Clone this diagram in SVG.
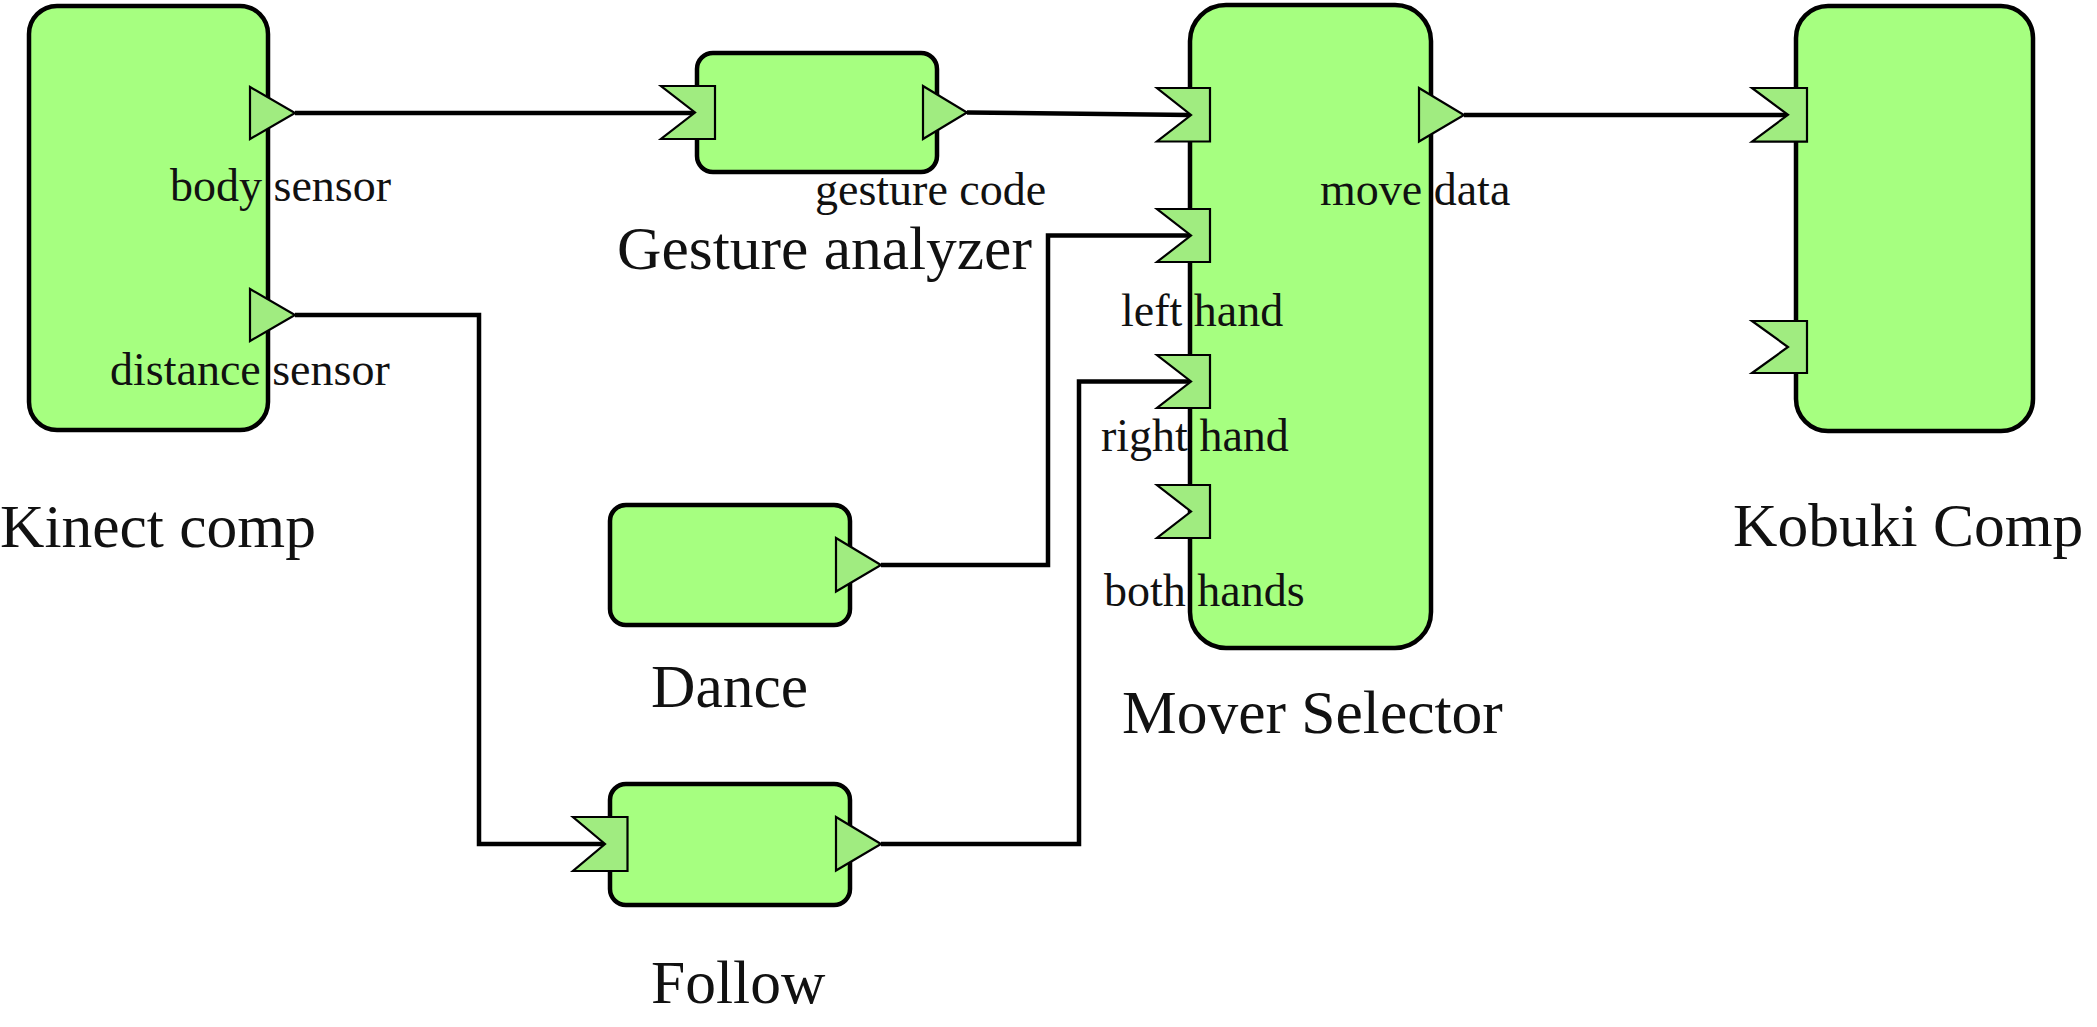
<svg xmlns="http://www.w3.org/2000/svg" width="2097" height="1027" viewBox="0 0 2097 1027">
<style>
.box{fill:#a6ff80;stroke:#000;stroke-width:4.5}
.port{fill:#a0ec80;stroke:#000;stroke-width:2.2;stroke-linejoin:miter}
.conn{fill:none;stroke:#000;stroke-width:4.5}
.lbl{font-family:"Liberation Serif","Times New Roman",serif;font-size:46px;fill:#111}
.ttl{font-family:"Liberation Serif","Times New Roman",serif;font-size:61.5px;fill:#111}
</style>
<rect width="2097" height="1027" fill="#fff"/>
<g id="connectors">
<polyline class="conn" points="295,113 695,113"/>
<polyline class="conn" points="967,112.5 1191,115"/>
<polyline class="conn" points="1464,115 1788,115"/>
<polyline class="conn" points="295,315 479,315 479,844 605,844"/>
<polyline class="conn" points="881,565 1048,565 1048,235.5 1191,235.5"/>
<polyline class="conn" points="881,844 1079,844 1079,381.5 1191,381.5"/>
</g>
<g id="kinect">
<rect class="box" x="29" y="6" width="239" height="424" rx="28"/>
<polygon class="port" points="250,87 250,139 295,113"/>
<polygon class="port" points="250,289 250,341 295,315"/>
<text class="lbl" x="170" y="201">body sensor</text>
<text class="lbl" x="110" y="385">distance sensor</text>
<text class="ttl" x="0" y="547">Kinect comp</text>
</g>
<g id="gesture">
<rect class="box" x="697" y="53" width="240" height="119" rx="16"/>
<polygon class="port" points="661,86 715,86 715,139 661,139 695,112.5"/>
<polygon class="port" points="923,86 923,139 967,112.5"/>
<text class="lbl" x="815" y="205">gesture code</text>
<text class="ttl" x="617" y="269">Gesture analyzer</text>
</g>
<g id="dance">
<rect class="box" x="610" y="505" width="240" height="120" rx="16"/>
<polygon class="port" points="836,538 836,591.5 881,565"/>
<text class="ttl" x="651" y="707">Dance</text>
</g>
<g id="follow">
<rect class="box" x="610" y="784" width="240" height="121" rx="16"/>
<polygon class="port" points="573,817 627.5,817 627.5,871 573,871 605,844"/>
<polygon class="port" points="836,817 836,870.5 881,844"/>
<text class="ttl" x="651" y="1003">Follow</text>
</g>
<g id="mover">
<rect class="box" x="1190" y="5" width="241" height="643" rx="36"/>
<polygon class="port" points="1157,88 1210,88 1210,141.5 1157,141.5 1191,115"/>
<polygon class="port" points="1157,209 1210,209 1210,262 1157,262 1191,235.5"/>
<polygon class="port" points="1157,355 1210,355 1210,408 1157,408 1191,381.5"/>
<polygon class="port" points="1157,485 1210,485 1210,538 1157,538 1191,511.5"/>
<polygon class="port" points="1419,88 1419,141.5 1464,115"/>
<text class="lbl" x="1320" y="205">move data</text>
<text class="lbl" x="1121" y="326">left hand</text>
<text class="lbl" x="1101" y="451">right hand</text>
<text class="lbl" x="1104" y="606">both hands</text>
<text class="ttl" x="1122" y="733">Mover Selector</text>
</g>
<g id="kobuki">
<rect class="box" x="1796" y="6" width="237" height="425" rx="32"/>
<polygon class="port" points="1752,88 1807,88 1807,141.6 1752,141.6 1788,114.8"/>
<polygon class="port" points="1752,321 1807,321 1807,373 1752,373 1788,347"/>
<text class="ttl" x="1733" y="546">Kobuki Comp</text>
</g>
</svg>
